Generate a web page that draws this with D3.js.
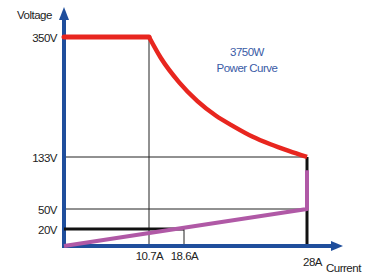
<!DOCTYPE html>
<html>
<head>
<meta charset="utf-8">
<script src="https://cdn.jsdelivr.net/npm/d3@7"></script>
<style>
  html, body { margin: 0; padding: 0; background: #fff; }
  text { font-family: "Liberation Sans", Arial, sans-serif; font-size: 11.5px; letter-spacing: -0.5px; fill: #222; }
</style>
</head>
<body>
<div id="chart"></div>
<script>
'use strict'

// tick values on the axes
const voltTicks = [350, 133, 50, 20]
const ampTicks = [10.7, 18.6, 28]

// 3750W power curve
const powerAmps = [10.7, 12, 14, 16, 18, 20, 22, 24, 26, 28]
const powerVolts = [350, 312, 268, 234, 208, 188, 170, 156, 144, 133]

// limit lines
const magentaAmps = [0, 28, 28]
const magentaVolts = [0, 50, 112]
const lowAmps = [0, 18.6]
const lowVolts = [20, 20]

const svgWidth = 374
const svgHeight = 273

const svg = d3.select('#chart')
    .append('svg')
    .attr('width', svgWidth)
    .attr('height', svgHeight)

// the picture is a sketch, so both axes are piecewise
const x = d3.scaleLinear().domain([0, 10.7, 18.6, 28]).range([64, 149, 184, 307])
const y = d3.scaleLinear().domain([0, 20, 50, 133, 350]).range([246, 229, 209, 157, 37])
// the power curve is drawn evenly between its two end ticks
const xCurve = d3.scaleLinear().domain([10.7, 28]).range([x(10.7), x(28)])

const blue = '#1f4e9c'

////////// thin guide lines //////////
const guides = svg.append('g').attr('stroke', '#222').attr('stroke-width', 1)
guides.append('line').attr('x1', x(10.7)).attr('x2', x(10.7)).attr('y1', y(350)).attr('y2', y(0))
guides.append('line').attr('x1', x(18.6)).attr('x2', x(18.6)).attr('y1', y(20)).attr('y2', y(0))
guides.append('line').attr('x1', x(0)).attr('x2', x(28)).attr('y1', y(133)).attr('y2', y(133))
guides.append('line').attr('x1', x(0)).attr('x2', x(28)).attr('y1', y(50)).attr('y2', y(50))

// thick black at 28A
svg.append('line')
    .attr('x1', x(28)).attr('x2', x(28)).attr('y1', y(133)).attr('y2', y(0))
    .attr('stroke', '#111').attr('stroke-width', 3)

////////// axes //////////
svg.append('line')
    .attr('x1', x(0)).attr('x2', x(0)).attr('y1', y(0) + 2).attr('y2', 18)
    .attr('stroke', blue).attr('stroke-width', 4)
svg.append('path')
    .attr('d', `M${x(0) - 5},20 L${x(0)},7 L${x(0) + 5},20 Z`)
    .attr('fill', blue)

svg.append('line')
    .attr('x1', x(0) - 2).attr('x2', 333).attr('y1', y(0)).attr('y2', y(0))
    .attr('stroke', blue).attr('stroke-width', 4)
svg.append('path')
    .attr('d', `M331,${y(0) - 5} L343,${y(0)} L331,${y(0) + 5} Z`)
    .attr('fill', blue)

const yAxis = svg.append('g')
    .attr('transform', `translate(${x(0) - 2},0)`)
    .call(d3.axisLeft(y).tickValues(voltTicks).tickSize(0).tickPadding(5).tickFormat(d => d + 'V'))
yAxis.select('.domain').remove()
yAxis.selectAll('text').attr('font-size', null).attr('font-family', null).attr('dy', '0.35em')

const xAxis = svg.append('g')
    .attr('transform', `translate(0,${y(0) + 2})`)
    .call(d3.axisBottom(x).tickValues(ampTicks).tickSize(0).tickPadding(4).tickFormat(d => d + 'A'))
xAxis.select('.domain').remove()
xAxis.selectAll('text').attr('font-size', null).attr('font-family', null)
xAxis.selectAll('.tick').filter(d => d === 28).select('text')
    .attr('x', 5).attr('y', 10)

svg.append('text').attr('x', 17).attr('y', 19).text('Voltage')
svg.append('text').attr('x', 326).attr('y', 272).text('Current')

////////// series //////////
const line = d3.line().x(d => x(d[0])).y(d => y(d[1]))

svg.append('path')
    .datum(lowAmps.map((a, i) => [a, lowVolts[i]]))
    .attr('d', line)
    .attr('fill', 'none').attr('stroke', '#111').attr('stroke-width', 3)

svg.append('path')
    .datum(magentaAmps.map((a, i) => [a, magentaVolts[i]]))
    .attr('d', line)
    .attr('fill', 'none').attr('stroke', '#b059a6').attr('stroke-width', 4)
    .attr('stroke-linejoin', 'round')

svg.append('path')
    .datum([[0, 350], [10.7, 350]])
    .attr('d', line)
    .attr('fill', 'none').attr('stroke', '#e8261f').attr('stroke-width', 5)
    .attr('stroke-linecap', 'round')

const curveLine = d3.line().x(d => xCurve(d[0])).y(d => y(d[1])).curve(d3.curveMonotoneX)
svg.append('path')
    .datum(powerAmps.map((a, i) => [a, powerVolts[i]]))
    .attr('d', curveLine)
    .attr('fill', 'none').attr('stroke', '#e8261f').attr('stroke-width', 4.5)

svg.append('text')
    .attr('x', 247).attr('y', 56).attr('text-anchor', 'middle')
    .style('fill', '#3a5ba6').text('3750W')
svg.append('text')
    .attr('x', 247).attr('y', 72).attr('text-anchor', 'middle')
    .style('fill', '#3a5ba6').text('Power Curve')
</script>
</body>
</html>
